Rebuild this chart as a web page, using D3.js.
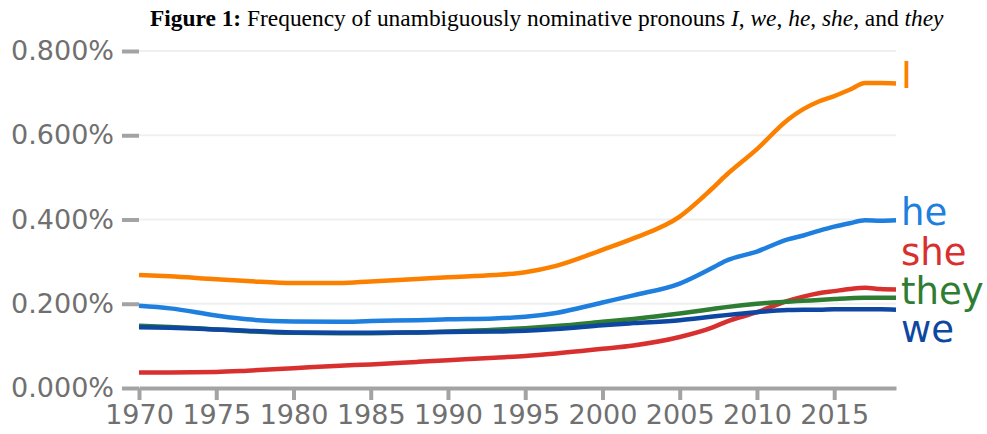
<!DOCTYPE html>
<html>
<head>
<meta charset="utf-8">
<script src="https://cdn.jsdelivr.net/npm/d3@7"></script>
<style>
  html, body { margin: 0; padding: 0; background: #fff; }
  svg { display: block; }
</style>
</head>
<body>
<script>
// ---- data (percent of all words) ----
const years = [1970,1972,1975,1977,1980,1983,1985,1988,1990,1993,1995,1997,2000,2002,2005,2007,2008,2010,2012,2013,2014,2015,2016,2017,2018,2019];
const valI    = [.268,.265,.258,.254,.249,.249,.253,.259,.263,.268,.275,.290,.328,.355,.407,.470,.505,.567,.637,.662,.680,.693,.708,.724,.724,.723];
const valHe   = [.195,.189,.172,.163,.158,.157,.159,.161,.163,.165,.169,.178,.203,.220,.248,.283,.302,.324,.353,.362,.373,.383,.391,.398,.397,.398];
const valShe  = [.037,.037,.038,.041,.047,.053,.056,.062,.066,.072,.076,.082,.093,.101,.121,.142,.157,.180,.207,.217,.225,.230,.235,.238,.235,.234];
const valThey = [.148,.145,.139,.135,.131,.130,.130,.132,.134,.138,.142,.147,.157,.164,.177,.187,.192,.200,.205,.207,.209,.211,.213,.214,.214,.214];
const valWe   = [.144,.143,.139,.136,.132,.131,.131,.132,.133,.134,.136,.140,.149,.154,.161,.169,.173,.180,.185,.186,.186,.187,.187,.187,.187,.186];
const seriesNames = ["I","he","she","they","we"];
const seriesColors = ["#fb8000","#1e7fde","#d8302f","#2e7d32","#0d47a1"];
const yTicks = [0, 0.2, 0.4, 0.6, 0.8];
const xTicks = [1970,1975,1980,1985,1990,1995,2000,2005,2010,2015];

const series = [valI, valHe, valShe, valThey, valWe].map((vals, i) => ({
  name: seriesNames[i], color: seriesColors[i],
  points: years.map((yr, j) => ({ year: yr, v: vals[j] }))
}));

const W = 987, H = 434;
const margin = { left: 139, right: 91, top: 51, bottom: 46 };
const svg = d3.select("body").append("svg").attr("width", W).attr("height", H);

const x = d3.scaleLinear().domain([1970, 2019]).range([margin.left, W - margin.right]);
const y = d3.scaleLinear().domain([0, 0.8]).range([H - margin.bottom, margin.top]);

// title
const title = svg.append("text")
  .attr("x", 150).attr("y", 26)
  .attr("font-family", "'Liberation Serif', 'Times New Roman', serif")
  .attr("font-size", 23.4).attr("fill", "#000");
title.append("tspan").attr("font-weight", "bold").text("Figure 1:");
title.append("tspan").text(" Frequency of unambiguously nominative pronouns ");
title.append("tspan").attr("font-style", "italic").text("I");
title.append("tspan").text(", ");
title.append("tspan").attr("font-style", "italic").text("we");
title.append("tspan").text(", ");
title.append("tspan").attr("font-style", "italic").text("he");
title.append("tspan").text(", ");
title.append("tspan").attr("font-style", "italic").text("she");
title.append("tspan").text(", and ");
title.append("tspan").attr("font-style", "italic").text("they");

// gridlines
svg.append("g").selectAll("line").data(yTicks.filter(d => d > 0)).join("line")
  .attr("x1", x(1970)).attr("x2", x(2019))
  .attr("y1", d => y(d)).attr("y2", d => y(d))
  .attr("stroke", "#efefef").attr("stroke-width", 2);

// y axis
const yAxis = svg.append("g").attr("transform", `translate(${x(1970)},0)`)
  .call(d3.axisLeft(y).tickValues(yTicks).tickFormat(d => d.toFixed(3) + "%").tickSize(17).tickPadding(8));
yAxis.select(".domain").remove();
yAxis.selectAll(".tick line").attr("stroke", "#a3a3a3").attr("stroke-width", 4);
yAxis.selectAll(".tick text").attr("fill", "#707070")
  .attr("font-family", "'DejaVu Sans', sans-serif").attr("font-size", 27);

// x axis
const xAxis = svg.append("g").attr("transform", `translate(0,${y(0)})`)
  .call(d3.axisBottom(x).tickValues(xTicks).tickFormat(d3.format("d")).tickSize(12).tickPadding(5).tickSizeOuter(0));
xAxis.select(".domain").attr("stroke", "#a3a3a3").attr("stroke-width", 4);
xAxis.selectAll(".tick line").attr("stroke", "#a3a3a3").attr("stroke-width", 4);
xAxis.selectAll(".tick text").attr("fill", "#707070")
  .attr("font-family", "'DejaVu Sans', sans-serif").attr("font-size", 27);

// lines
const line = d3.line().x(d => x(d.year)).y(d => y(d.v)).curve(d3.curveMonotoneX);
svg.append("g").selectAll("path").data(series).join("path")
  .attr("d", d => line(d.points))
  .attr("fill", "none").attr("stroke", d => d.color)
  .attr("stroke-width", 4.5).attr("stroke-linejoin", "round");

// end labels with simple dodge
const labels = series.map(s => ({ s, pos: y(s.points[s.points.length - 1].v) + 5 }))
  .sort((a, b) => a.pos - b.pos);
const gap = 38.5;
for (let iter = 0; iter < 200; iter++) {
  for (let i = 1; i < labels.length; i++) {
    const d = labels[i].pos - labels[i - 1].pos;
    if (d < gap) {
      const shift = (gap - d) / 2;
      labels[i].pos += shift;
      labels[i - 1].pos -= shift;
    }
  }
}
svg.append("g").selectAll("text").data(labels).join("text")
  .attr("x", x(2019) + 5).attr("y", d => d.pos)
  .attr("font-family", "'DejaVu Sans', sans-serif").attr("font-size", 37)
  .attr("fill", d => d.s.color)
  .text(d => d.s.name);
</script>
</body>
</html>
